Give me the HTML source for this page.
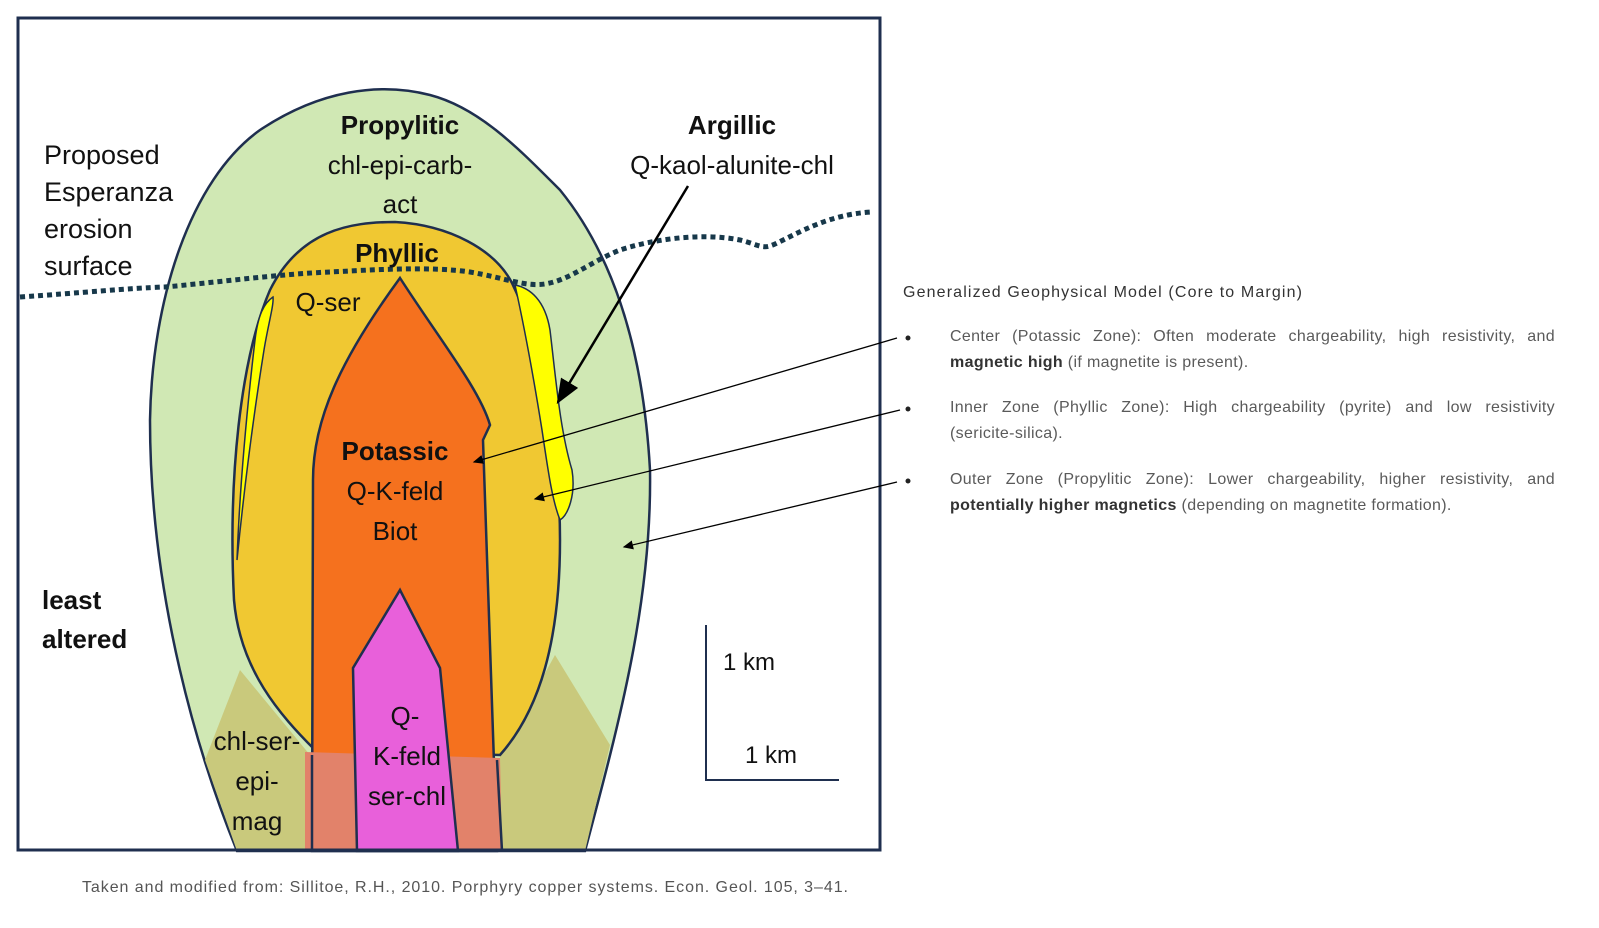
<!DOCTYPE html>
<html><head><meta charset="utf-8"><style>
body{margin:0;background:#fff;width:1599px;height:928px;overflow:hidden;font-family:"Liberation Sans",sans-serif;}
.r{position:absolute;left:950px;width:605px;font-size:16px;letter-spacing:0.35px;color:#5a5a5a;line-height:26px;text-align:justify;}
.r b{color:#333;}
</style></head><body>
<svg width="1599" height="928" style="position:absolute;left:0;top:0" font-family="Liberation Sans, sans-serif">
<defs><marker id="a" markerWidth="10" markerHeight="8" refX="9" refY="4" orient="auto"><path d="M0,0 L10,4 L0,8 Z" fill="#000"/></marker>
<marker id="b" markerWidth="8" markerHeight="7" refX="7" refY="3.5" orient="auto"><path d="M0,0 L8,3.5 L0,7 Z" fill="#000"/></marker></defs>
<rect x="18" y="18" width="862" height="832" fill="#fff" stroke="#1f2f4f" stroke-width="3"/>
<path d="M237,851 C200,760 150,600 150,420 C152,300 190,180 260,130 C320,90 380,82 430,95 C480,108 520,150 560,190 C625,270 645,380 650,470 C652,600 620,720 585,851 Z" fill="#d0e8b4" stroke="#1f2f4f" stroke-width="2.5"/>
<path d="M240,670 L205,760 L237,851 L310,851 L310,755 Z" fill="#c9c97c"/>
<path d="M555,655 L610,745 L585,851 L500,851 L500,755 Z" fill="#c9c97c"/>
<path d="M315,750 C280,715 240,670 234,600 C228,480 240,360 270,290 C300,230 350,222 395,222 C450,225 495,250 512,283 C540,340 560,450 560,540 C560,640 540,710 500,755 Z" fill="#f0c832" stroke="#1f2f4f" stroke-width="2.5"/>
<path d="M273,297 C264,303 258,315 255,340 C248,400 240,480 237,560 C245,480 256,400 264,350 C268,325 274,305 273,297 Z" fill="#ffff00" stroke="#1f2f4f" stroke-width="1.5"/>
<path d="M515,285 C530,288 545,300 550,330 C556,380 560,430 572,470 C576,495 568,515 560,520 C552,500 548,470 542,430 C534,380 525,330 515,285 Z" fill="#ffff00" stroke="#1f2f4f" stroke-width="1.5"/>
<path d="M312,851 L313,480 C313,420 340,360 400,278 C440,340 480,390 490,425 L483,440 L497,851 Z" fill="#f5711e" stroke="#1f2f4f" stroke-width="2.5"/>
<path d="M305,752 L500,758 L502,851 L305,851 Z" fill="#e2826a"/>
<path d="M312,755 L312,851 M497,760 L502,851" stroke="#1f2f4f" stroke-width="2.5"/>
<path d="M357,851 L353,668 L400,590 L440,668 L458,851 Z" fill="#e860da" stroke="#1f2f4f" stroke-width="2.5"/>
<rect x="18" y="18" width="862" height="832" fill="none" stroke="#1f2f4f" stroke-width="3"/>
<path d="M20,297 C80,293 130,288 165,287 C220,282 280,274 330,272 C370,270 430,266 470,272 C505,278 525,287 545,284 C570,280 590,262 620,250 C650,240 700,232 740,240 C760,245 762,250 775,244 C800,232 830,214 872,212" fill="none" stroke="#17384a" stroke-width="5" stroke-dasharray="5 4"/>
<line x1="688" y1="186" x2="558" y2="402" stroke="#000" stroke-width="2.5" marker-end="url(#a)"/>
<line x1="897" y1="338" x2="474" y2="462" stroke="#000" stroke-width="1.3" marker-end="url(#b)"/>
<line x1="900" y1="410" x2="535" y2="499" stroke="#000" stroke-width="1.3" marker-end="url(#b)"/>
<line x1="897" y1="482" x2="624" y2="547" stroke="#000" stroke-width="1.3" marker-end="url(#b)"/>
<path d="M706,625 L706,780 L839,780" fill="none" stroke="#1f2f4f" stroke-width="2"/>
<g font-size="26" fill="#111" text-anchor="middle">
<text x="400" y="134" font-weight="bold">Propylitic</text>
<text x="400" y="174">chl-epi-carb-</text>
<text x="400" y="213">act</text>
<text x="397" y="262" font-weight="bold">Phyllic</text>
<text x="328" y="311">Q-ser</text>
<text x="732" y="134" font-weight="bold">Argillic</text>
<text x="732" y="174">Q-kaol-alunite-chl</text>
<text x="395" y="460" font-weight="bold">Potassic</text>
<text x="395" y="500">Q-K-feld</text>
<text x="395" y="540">Biot</text>
<text x="405" y="725">Q-</text>
<text x="407" y="765">K-feld</text>
<text x="407" y="805">ser-chl</text>
<text x="257" y="750">chl-ser-</text>
<text x="257" y="790">epi-</text>
<text x="257" y="830">mag</text>
<text x="749" y="670" font-size="24">1 km</text>
<text x="771" y="763" font-size="24">1 km</text>
</g>
<g font-size="26" fill="#111">
<text x="42" y="609" font-weight="bold">least</text>
<text x="42" y="648" font-weight="bold">altered</text>
<text x="44" y="164" font-size="27">Proposed</text>
<text x="44" y="201" font-size="27">Esperanza</text>
<text x="44" y="238" font-size="27">erosion</text>
<text x="44" y="275" font-size="27">surface</text>
</g>
<text x="82" y="892" font-size="16" fill="#555" textLength="766" lengthAdjust="spacing">Taken and modified from: Sillitoe, R.H., 2010. Porphyry copper systems. Econ. Geol. 105, 3–41.</text>
<text x="903" y="297" font-size="16" fill="#333" textLength="399" lengthAdjust="spacing">Generalized Geophysical Model (Core to Margin)</text>
<g fill="#222"><circle cx="908" cy="338" r="2.5"/><circle cx="908" cy="409" r="2.5"/><circle cx="908" cy="481" r="2.5"/></g>
</svg>
<div class="r" style="top:324px">Center (Potassic Zone): Often moderate chargeability, high resistivity, and <b>magnetic high</b> (if magnetite is present).</div>
<div class="r" style="top:395px">Inner Zone (Phyllic Zone): High chargeability (pyrite) and low resistivity <span style="white-space:nowrap">(sericite-silica).</span></div>
<div class="r" style="top:467px">Outer Zone (Propylitic Zone): Lower chargeability, higher resistivity, and <b>potentially higher magnetics</b> (depending on magnetite formation).</div>
</body></html>
